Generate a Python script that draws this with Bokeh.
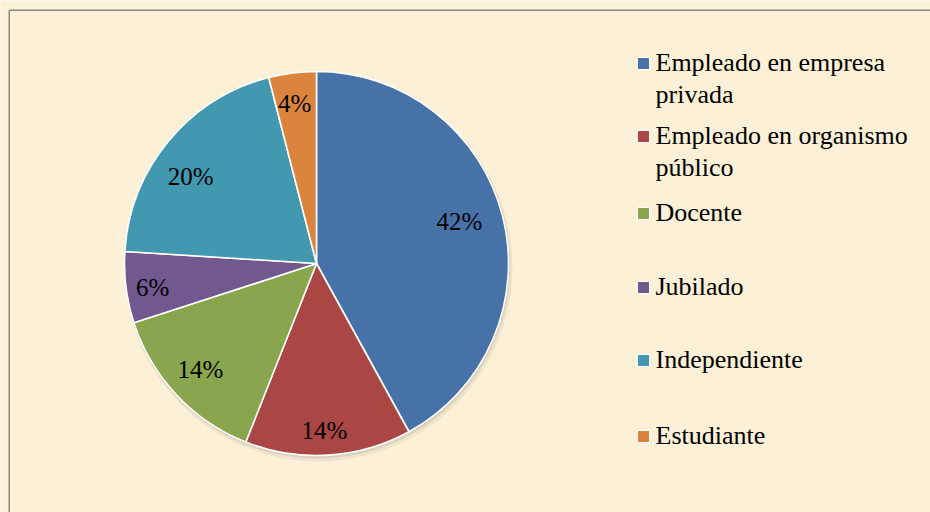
import math
from bokeh.plotting import figure
from bokeh.models import ColumnDataSource, Range1d
from bokeh.core.properties import value
from bokeh.embed import file_html
from bokeh.resources import INLINE

# ---- data ----
categories = ["Empleado en empresa privada", "Empleado en organismo público",
              "Docente", "Jubilado", "Independiente", "Estudiante"]
legend_lines = [["Empleado en empresa", "privada"],
                ["Empleado en organismo", "público"],
                ["Docente"], ["Jubilado"], ["Independiente"], ["Estudiante"]]
percent = [42, 14, 14, 6, 20, 4]
colors = ["#4672A8", "#AA4644", "#89A54E", "#71588F", "#4198AF", "#DB843D"]

# ---- layout (pixels within figure, y up) ----
W, H = 930, 512
CX, CY, R = 316, 249, 192
label_rf = [0.776, 0.871, 0.819, 0.863, 0.797, 0.841]     # radial position of labels
label_dang = [2.0, -0.9, -0.8, 1.1, 5.0, 0.6]              # "best fit" angular nudge (deg)
legend_y = [450, 377, 300, 226, 153, 77]   # centre of first line of each entry
legend_sq_x, legend_tx_x, line_gap = 643, 655, 32
FONT = "Liberation Serif"
BG = "#FCF0D6"

p = figure(width=W, height=H, x_range=Range1d(0, W), y_range=Range1d(0, H),
           x_axis_type=None, y_axis_type=None, output_backend="svg",
           toolbar_location=None, min_border=0)
p.grid.visible = False
p.outline_line_color = None
p.background_fill_color = BG
p.border_fill_color = BG

total = float(sum(percent))
starts, ends, mids = [], [], []
cum = 0.0
for v in percent:
    a0 = math.pi / 2 - 2 * math.pi * cum / total
    cum += v
    a1 = math.pi / 2 - 2 * math.pi * cum / total
    starts.append(a0)
    ends.append(a1)
    mids.append((a0 + a1) / 2)

src = ColumnDataSource(dict(start=starts, end=ends, color=colors,
                            cat=categories, pct=percent))

# texts first (drawn on the overlay level so they stay on top)
lx = [CX + R * f * math.cos(m + math.radians(d)) for f, m, d in zip(label_rf, mids, label_dang)]
ly = [CY + R * f * math.sin(m + math.radians(d)) for f, m, d in zip(label_rf, mids, label_dang)]
p.text(x=lx, y=ly, text=[f"{v}%" for v in percent], text_align="center",
       text_baseline="middle", text_font=value(FONT), text_font_size="25px",
       text_color="black", level="overlay")

tx, ty, tt = [], [], []
for lines, y in zip(legend_lines, legend_y):
    for i, ln in enumerate(lines):
        tx.append(legend_tx_x)
        ty.append(y - i * line_gap)
        tt.append(ln)
p.text(x=tx, y=ty, text=tt, text_align="left", text_baseline="middle",
       text_font=value(FONT), text_font_size="26px", text_color="black",
       level="overlay")

# soft shadow
p.circle(x=CX + 2, y=CY - 4, radius=R + 2, fill_color="#000000", fill_alpha=0.05, line_color=None)
p.circle(x=CX + 1, y=CY - 2, radius=R + 1, fill_color="#000000", fill_alpha=0.08, line_color=None)

p.wedge(x=CX, y=CY, radius=R, start_angle="start", end_angle="end",
        direction="clock", fill_color="color", line_color="white",
        line_width=1.6, source=src)

# legend keys
p.scatter(x=[legend_sq_x] * len(categories), y=[y - 1 for y in legend_y],
          marker="square", size=12, fill_color=colors, line_color="white",
          line_width=1)

# chart-area border (top and left visible)
p.segment(x0=[8.75, 8.75], y0=[0, 502.25], x1=[8.75, W], y1=[502.25, 502.25],
          line_color="#878787", line_width=1.5)

open("out.html", "w").write(file_html(p, INLINE))
